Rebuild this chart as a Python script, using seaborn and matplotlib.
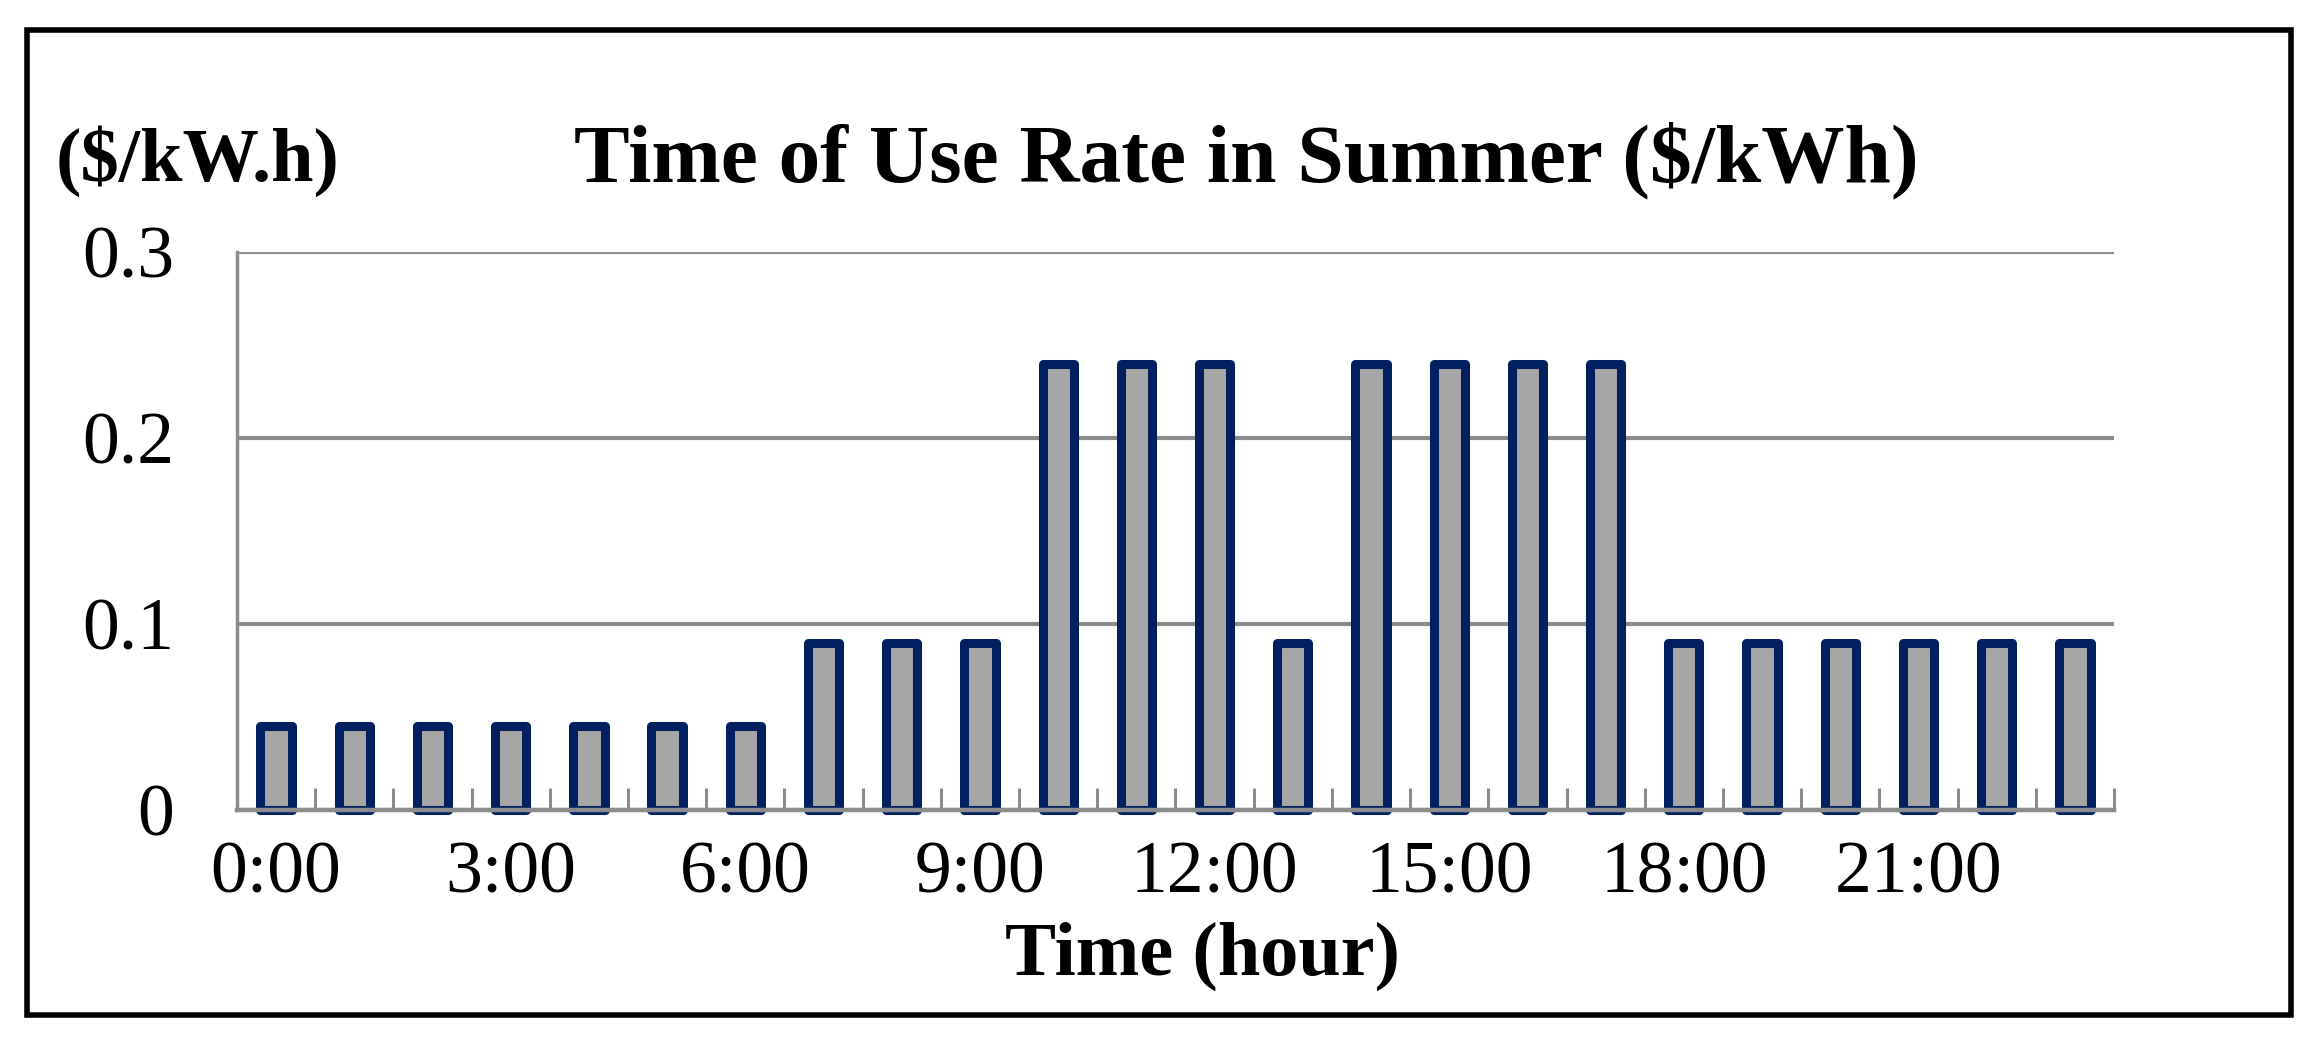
import matplotlib
matplotlib.use("Agg")
import matplotlib.pyplot as plt
from matplotlib.patches import Rectangle
import numpy as np
import pandas as pd
import seaborn as sns

# hourly time-of-use rate, $/kWh
hours = [f"{h}:00" for h in range(24)]
rates = [0.045, 0.045, 0.045, 0.045, 0.045, 0.045, 0.045,
         0.09, 0.09, 0.09,
         0.24, 0.24, 0.24,
         0.09,
         0.24, 0.24, 0.24, 0.24,
         0.09, 0.09, 0.09, 0.09, 0.09, 0.09]
y_ticks = [0, 0.1, 0.2, 0.3]
y_tick_labels = ["0", "0.1", "0.2", "0.3"]

sns.set_style("white")
plt.rcParams["font.family"] = ["Liberation Serif", "DejaVu Serif"]
plt.rcParams["text.color"] = "black"
plt.rcParams["xtick.color"] = "black"
plt.rcParams["ytick.color"] = "black"

df = pd.DataFrame({"hour": hours, "rate": rates})

fig = plt.figure(figsize=(23.21, 10.40), dpi=100)
ax = fig.add_axes([0.1021, 0.2212, 0.8087, 0.5365])

sns.barplot(data=df, x="hour", y="rate", order=hours, ax=ax,
            color="#A6A6A6", width=0.4, saturation=1,
            edgecolor="#002060", linewidth=6.5, zorder=3)
for p in ax.patches:
    p.set_clip_on(False)
    p.set_joinstyle("round")

ax.set_xlim(-0.5, 23.5)
ax.set_ylim(0, 0.3)
ax.set_yticks(y_ticks)
ax.set_yticklabels(y_tick_labels, fontsize=53)
ax.tick_params(axis="y", length=0, pad=45, labelcolor="black")

ax.set_xticks(range(0, 24, 3))
ax.set_xticklabels([hours[i] for i in range(0, 24, 3)], fontsize=53)
ax.set_xticks(np.arange(0.5, 24, 1), minor=True)
ax.tick_params(axis="x", which="major", bottom=True, length=0, pad=22,
               labelcolor="black")
ax.tick_params(axis="x", which="minor", bottom=True, direction="in",
               length=16, width=2.2, color="#8C8C8C")

ax.grid(axis="y", color="#8C8C8C", linewidth=3.0, zorder=0)
ax.set_axisbelow(True)
for side in ["top", "right"]:
    ax.spines[side].set_visible(False)
ax.spines["left"].set_color("#8C8C8C")
ax.spines["left"].set_linewidth(2.5)
ax.spines["bottom"].set_color("#8C8C8C")
ax.spines["bottom"].set_linewidth(3.2)
ax.spines["bottom"].set_zorder(4)

ax.set_xlabel("")
ax.set_ylabel("")
fig.text(0.518, 0.063, "Time (hour)", ha="center", va="baseline",
         fontsize=55, fontweight="bold", color="black")
fig.text(0.537, 0.826, "Time of Use Rate in Summer ($/kWh)", ha="center",
         va="baseline", fontsize=60, fontweight="bold", color="black")
fig.text(0.024, 0.826, "($/kW.h)", ha="left", va="baseline",
         fontsize=55, fontweight="bold", color="black")

# outer frame
fig.patches.append(Rectangle((0.0116, 0.024), 0.9755, 0.947, transform=fig.transFigure,
                             fill=False, edgecolor="black", linewidth=4))

fig.savefig("out.png", dpi=100)
plt.close(fig)
